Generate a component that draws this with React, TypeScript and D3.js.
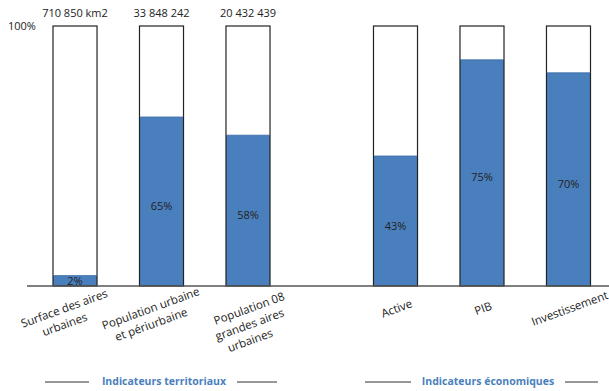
import React from "react";
import * as d3 from "d3";

const categories = [
  "Surface des aires urbaines",
  "Population urbaine et périurbaine",
  "Population 08 grandes aires urbaines",
  "Active",
  "PIB",
  "Investissement",
];
const categoryLines = [
  ["Surface des aires", "urbaines"],
  ["Population urbaine", "et périurbaine"],
  ["Population 08", "grandes aires", "urbaines"],
  ["Active"],
  ["PIB"],
  ["Investissement"],
];
const groups = [0, 0, 0, 1, 1, 1];
const shares = [4, 65, 58, 50, 87, 82];
const shareLabels = ["2%", "65%", "58%", "43%", "75%", "70%"];
const totals = ["710 850 km2", "33 848 242", "20 432 439", "", "", ""];
const groupTitles = ["Indicateurs territoriaux", "Indicateurs économiques"];
const yTickLabel = "100%";

const W = 609;
const H = 391;
const BLUE = "#4a7fbd";
const FONT = "'Open Sans', 'Liberation Sans', sans-serif";

export default function App() {
  const x = d3
    .scaleBand<string>()
    .domain(categories)
    .range([53, 529.5])
    .paddingInner(0.491)
    .paddingOuter(0);
  const groupShift = (g: number) => (g === 1 ? 61 : 0);
  const y = d3.scaleLinear().domain([0, 100]).range([286, 26]);
  const bw = x.bandwidth();

  const titleCenters = [164, 488];
  const titleLines = [
    [[45, 89], [237, 277]],
    [[365, 411], [565, 598]],
  ];

  return (
    <svg
      width={W}
      height={H}
      style={{ position: "absolute", left: 0, top: 0, fontFamily: FONT }}
    >
      <rect width={W} height={H} fill="#fff" />
      <text x={8} y={30} fontSize={11} fill="#222">
        {yTickLabel}
      </text>
      {categories.map((c, i) => {
        const x0 = (x(c) ?? 0) + groupShift(groups[i]);
        const cx = x0 + bw / 2;
        const top = y(100);
        const vy = y(shares[i]);
        const dx = categoryLines[i].length === 2 ? -11 : 1;
        return (
          <g key={c}>
            <rect x={x0} y={top} width={bw} height={y(0) - top} fill="#fff" />
            <rect x={x0} y={vy} width={bw} height={y(0) - vy} fill={BLUE} />
            <rect
              x={x0}
              y={top}
              width={bw}
              height={y(0) - top}
              fill="none"
              stroke="#222"
              strokeWidth={1.2}
            />
            <line x1={x0} x2={x0 + bw} y1={vy} y2={vy} stroke="#3a6aa5" strokeWidth={0.8} />
            <text
              x={cx}
              y={(vy + y(0)) / 2 + (shares[i] > 10 ? 4 : 0)}
              fontSize={11}
              textAnchor="middle"
              dominantBaseline="central"
              fill="#222"
            >
              {shareLabels[i]}
            </text>
            {totals[i] && (
              <text x={cx} y={17} fontSize={11} textAnchor="middle" fill="#222">
                {totals[i]}
              </text>
            )}
            {categoryLines[i].map((ln, j) => {
              const lx = cx + dx + j * 0.5;
              const ly = 308 + j * 16;
              return (
                <text
                  key={j}
                  x={lx}
                  y={ly}
                  fontSize={11.5}
                  textAnchor="middle"
                  dominantBaseline="central"
                  fill="#222"
                  transform={`rotate(-20 ${lx} ${ly})`}
                >
                  {ln}
                </text>
              );
            })}
          </g>
        );
      })}
      <line x1={27} x2={W} y1={286} y2={286} stroke="#555" strokeWidth={1.5} />
      {groupTitles.map((t, g) => (
        <g key={t}>
          <text
            x={titleCenters[g]}
            y={381}
            fontSize={10.5}
            fontWeight="bold"
            textAnchor="middle"
            dominantBaseline="central"
            fill={BLUE}
          >
            {t}
          </text>
          {titleLines[g].map((l, k) => (
            <line key={k} x1={l[0]} x2={l[1]} y1={382} y2={382} stroke="#333" strokeWidth={1} />
          ))}
        </g>
      ))}
    </svg>
  );
}
